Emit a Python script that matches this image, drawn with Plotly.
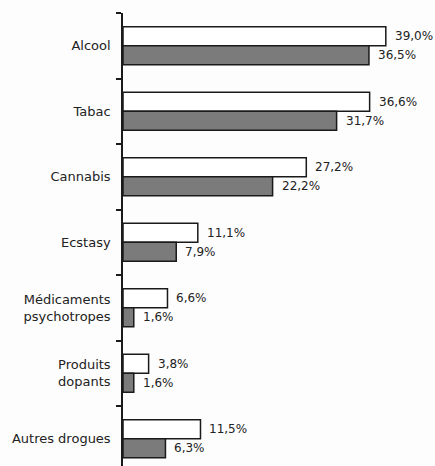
import plotly.graph_objects as go

categories = ["Alcool", "Tabac", "Cannabis", "Ecstasy",
              "Médicaments<br>psychotropes", "Produits<br>dopants", "Autres drogues"]
series_a = [39.0, 36.6, 27.2, 11.1, 6.6, 3.8, 11.5]
series_b = [36.5, 31.7, 22.2, 7.9, 1.6, 1.6, 6.3]

def fmt(v):
    return f"{v:.1f}".replace(".", ",") + "%"

label_font = dict(family="DejaVu Sans", size=13, color="#222222")
value_font = dict(family="DejaVu Sans", size=12, color="#222222")

BARGAP = 0.42
half = (1 - BARGAP) / 4  # centre offset of each bar inside its group

fig = go.Figure()
fig.add_trace(go.Bar(
    y=categories, x=series_a, orientation="h", name="Série 1",
    marker=dict(color="#ffffff", line=dict(color="#1a1a1a", width=1.5)),
))
fig.add_trace(go.Bar(
    y=categories, x=series_b, orientation="h", name="Série 2",
    marker=dict(color="#7b7b7b", line=dict(color="#1a1a1a", width=1.5)),
))

annotations = []
for i, (a, b) in enumerate(zip(series_a, series_b)):
    annotations.append(dict(x=a, y=i - half, xref="x", yref="y", text=fmt(a),
                            showarrow=False, xanchor="left", yanchor="middle",
                            xshift=7, font=value_font))
    annotations.append(dict(x=b, y=i + half, xref="x", yref="y", text=fmt(b),
                            showarrow=False, xanchor="left", yanchor="middle",
                            xshift=7, font=value_font))

fig.update_layout(
    width=435, height=466,
    margin=dict(l=123, r=0, t=13, b=0, autoexpand=False),
    paper_bgcolor="#fdfdfd", plot_bgcolor="#fdfdfd",
    barmode="group", bargap=BARGAP, bargroupgap=0,
    showlegend=False,
    font=label_font,
    annotations=annotations,
)
fig.update_xaxes(range=[0, 46.3], visible=False, showgrid=False, zeroline=False,
                 automargin=False)
fig.update_yaxes(
    type="category", range=[6.416, -0.5], automargin=False,
    showline=True, linecolor="#1a1a1a", linewidth=1.5,
    ticks="outside", ticklen=5, tickcolor="#1a1a1a", tickwidth=1.5,
    tickson="boundaries", ticklabelstandoff=8,
    showgrid=False, zeroline=False, tickfont=label_font,
)

fig.write_html("out.html", config={"displayModeBar": False},
               post_script="document.body.style.margin='0';document.body.style.overflow='hidden';")
